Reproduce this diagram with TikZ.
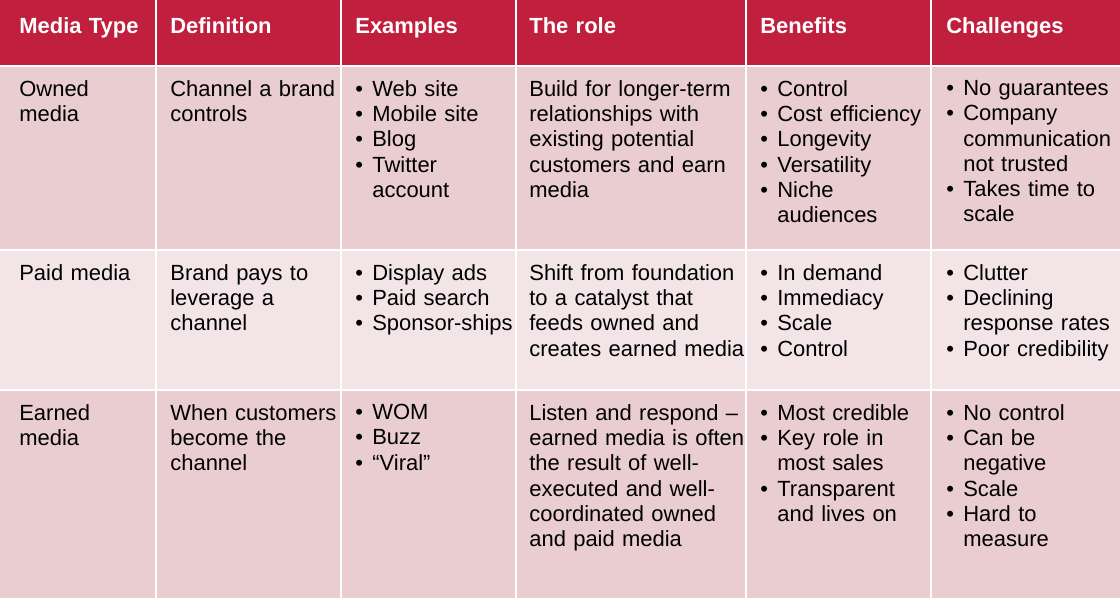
\documentclass[tikz,border=0pt]{standalone}
\usepackage{fontspec}
\setmainfont{Liberation Sans}
\usetikzlibrary{positioning}
\definecolor{headred}{HTML}{C01F3E}
\definecolor{rowdark}{HTML}{E9CDD1}
\definecolor{rowlight}{HTML}{F3E5E7}
\newcommand{\bl}[1]{{\hangindent=0.34cm\hangafter=1\noindent\makebox[0.34cm][l]{•}#1\par}}
\tikzset{
    headcell/.style={anchor=north west, inner sep=0pt, text width=5cm, align=left, text=white, font=\fontsize{12.5}{14.4}\selectfont\bfseries},
    bodycell/.style={anchor=north west, inner sep=0pt, text width=6cm, align=left, font=\fontsize{12.5}{14.4}\selectfont},
}
\begin{document}
\begin{tikzpicture}[x=0.02cm, y=-0.02cm]
    \useasboundingbox (0,0) rectangle (1120,598);

    % Background and cells
    \fill[white] (0,0) rectangle (1120,598);
    \foreach \xa/\xb in {0/155, 157/340, 342/515, 517/745, 747/930, 932/1120} {
        \fill[headred] (\xa,0) rectangle (\xb,65);
        \fill[rowdark] (\xa,67) rectangle (\xb,249);
        \fill[rowlight] (\xa,251) rectangle (\xb,389);
        \fill[rowdark] (\xa,391) rectangle (\xb,598);
    }

    % Header
    \node[headcell] (h1) at (19,17) {Media Type};
    \node[headcell] (h2) at (170,17) {Definition};
    \node[headcell] (h3) at (355,17) {Examples};
    \node[headcell] (h4) at (529,17) {The role};
    \node[headcell] (h5) at (760,17) {Benefits};
    \node[headcell] (h6) at (946,17) {Challenges};

    % Owned media
    \node[bodycell] (o1) at (19,80) {Owned\\media};
    \node[bodycell] (o2) at (170,80) {Channel a brand\\controls};
    \node[bodycell] (o3) at (355,80) {\bl{Web site}\bl{Mobile site}\bl{Blog}\bl{Twitter\newline account}};
    \node[bodycell] (o4) at (529,80) {Build for longer-term\\relationships with\\existing potential\\customers and earn\\media};
    \node[bodycell] (o5) at (760,80) {\bl{Control}\bl{Cost efficiency}\bl{Longevity}\bl{Versatility}\bl{Niche\newline audiences}};
    \node[bodycell] (o6) at (946,80) {\bl{No guarantees}\bl{Company\newline communication\newline not trusted}\bl{Takes time to\newline scale}};

    % Paid media
    \node[bodycell] (p1) at (19,264) {Paid media};
    \node[bodycell] (p2) at (170,264) {Brand pays to\\leverage a\\channel};
    \node[bodycell] (p3) at (355,264) {\bl{Display ads}\bl{Paid search}\bl{Sponsor-ships}};
    \node[bodycell] (p4) at (529,264) {Shift from foundation\\to a catalyst that\\feeds owned and\\creates earned media};
    \node[bodycell] (p5) at (760,264) {\bl{In demand}\bl{Immediacy}\bl{Scale}\bl{Control}};
    \node[bodycell] (p6) at (946,264) {\bl{Clutter}\bl{Declining\newline response rates}\bl{Poor credibility}};

    % Earned media
    \node[bodycell] (e1) at (19,404) {Earned\\media};
    \node[bodycell] (e2) at (170,404) {When customers\\become the\\channel};
    \node[bodycell] (e3) at (355,404) {\bl{WOM}\bl{Buzz}\bl{“Viral”}};
    \node[bodycell] (e4) at (529,404) {Listen and respond –\\earned media is often\\the result of well-\\executed and well-\\coordinated owned\\and paid media};
    \node[bodycell] (e5) at (760,404) {\bl{Most credible}\bl{Key role in\newline most sales}\bl{Transparent\newline and lives on}};
    \node[bodycell] (e6) at (946,404) {\bl{No control}\bl{Can be\newline negative}\bl{Scale}\bl{Hard to\newline measure}};

\end{tikzpicture}
\end{document}
